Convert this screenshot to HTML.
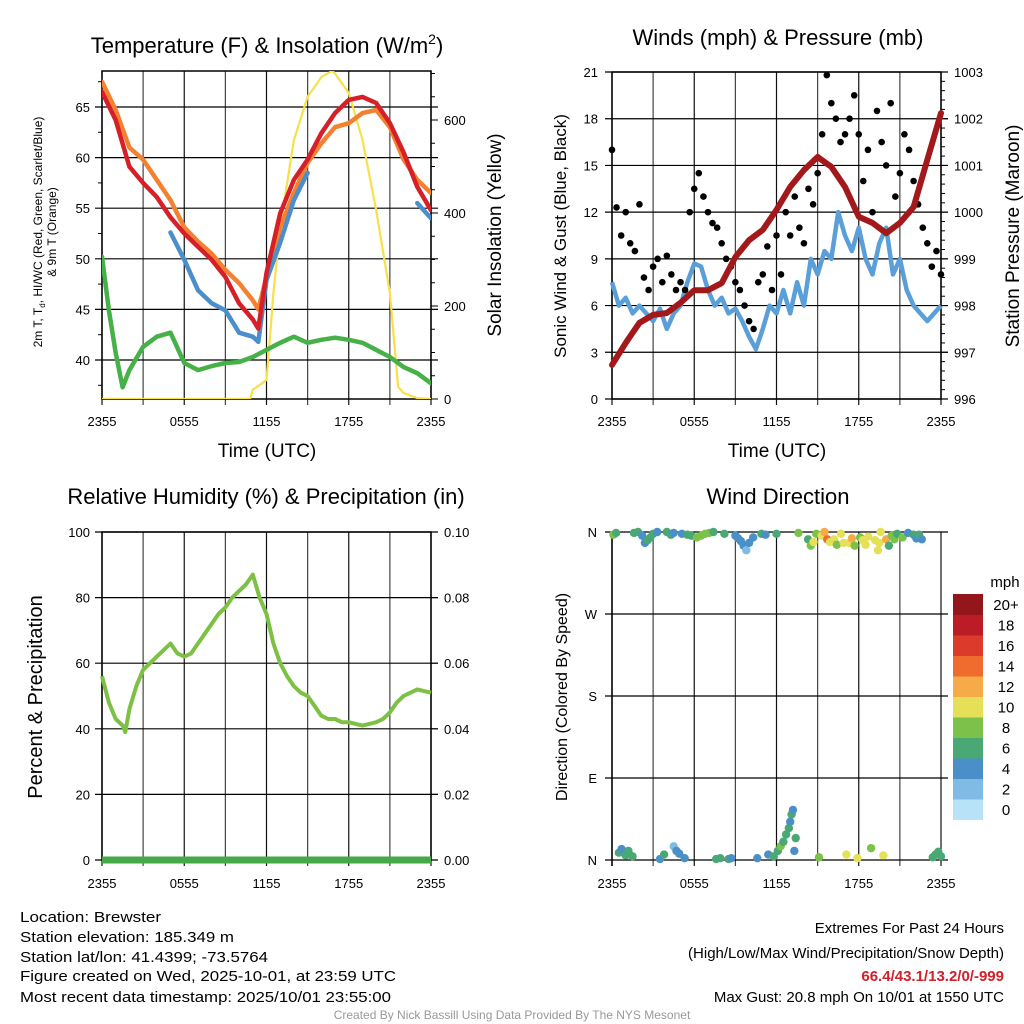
<!DOCTYPE html>
<html><head><meta charset="utf-8"><style>
html,body{margin:0;padding:0;background:#fff;}
svg{display:block;font-family:"Liberation Sans",Arial,sans-serif;}
</style></head><body>
<svg id="root" width="1024" height="1024" viewBox="0 0 1024 1024" xmlns="http://www.w3.org/2000/svg">
<rect width="1024" height="1024" fill="#fff"/>
<g id="layer"></g>
<text x="267" y="53" font-size="22" text-anchor="middle">Temperature (F) &amp; Insolation (W/m<tspan dy="-9" font-size="14">2</tspan><tspan dy="9">)</tspan></text>
<text x="778" y="45" font-size="22" text-anchor="middle">Winds (mph) &amp; Pressure (mb)</text>
<text x="266" y="504" font-size="22" text-anchor="middle">Relative Humidity (%) &amp; Precipitation (in)</text>
<text x="778" y="504" font-size="22" text-anchor="middle">Wind Direction</text>
<text transform="translate(42,232) rotate(-90)" font-size="12" text-anchor="middle">2m T, T<tspan font-size="8" dy="3">d</tspan><tspan dy="-3">, HI/WC (Red, Green, Scarlet/Blue)</tspan></text>
<text transform="translate(56,232) rotate(-90)" font-size="12" text-anchor="middle">&amp; 9m T (Orange)</text>
<text transform="translate(501,235) rotate(-90)" font-size="19" text-anchor="middle">Solar Insolation (Yellow)</text>
<text x="267" y="457" font-size="19" text-anchor="middle">Time (UTC)</text>
<text transform="translate(566,236) rotate(-90)" font-size="17" text-anchor="middle">Sonic Wind &amp; Gust (Blue, Black)</text>
<text transform="translate(1019,236) rotate(-90)" font-size="19" text-anchor="middle">Station Pressure (Maroon)</text>
<text x="777" y="457" font-size="19" text-anchor="middle">Time (UTC)</text>
<text transform="translate(42,697) rotate(-90)" font-size="20" text-anchor="middle">Percent &amp; Precipitation</text>
<text transform="translate(567,697) rotate(-90)" font-size="16" text-anchor="middle">Direction (Colored By Speed)</text>
<text x="1005" y="587" font-size="15" text-anchor="middle">mph</text>
<g font-size="15">
<text x="20" y="922" textLength="141" lengthAdjust="spacingAndGlyphs">Location: Brewster</text>
<text x="20" y="942" textLength="214" lengthAdjust="spacingAndGlyphs">Station elevation: 185.349 m</text>
<text x="20" y="962" textLength="248" lengthAdjust="spacingAndGlyphs">Station lat/lon: 41.4399; -73.5764</text>
<text x="20" y="981" textLength="376" lengthAdjust="spacingAndGlyphs">Figure created on Wed, 2025-10-01, at 23:59 UTC</text>
<text x="20" y="1002" textLength="371" lengthAdjust="spacingAndGlyphs">Most recent data timestamp: 2025/10/01 23:55:00</text>
</g>
<g font-size="15" text-anchor="end">
<text x="1004" y="933">Extremes For Past 24 Hours</text>
<text x="1004" y="958">(High/Low/Max Wind/Precipitation/Snow Depth)</text>
<text x="1004" y="981" fill="#d0202a" font-weight="bold">66.4/43.1/13.2/0/-999</text>
<text x="1004" y="1002">Max Gust: 20.8 mph On 10/01 at 1550 UTC</text>
</g>
<text x="512" y="1019" font-size="12" fill="#999" text-anchor="middle">Created By Nick Bassill Using Data Provided By The NYS Mesonet</text>
</svg>
<script>
const timeLabels = ["2355","0555","1155","1755","2355"];
const tempTime = [0,1,2,3,4,5,6,7,8,9,10,11,11.4,12,13,14,15,16,17,18,19,20,21,22,23,24];
const tempAir = [66.5,63.7,59.1,57.5,56.1,54.1,52.5,51.2,49.9,48.2,45.6,44.0,43.1,48.6,54.5,57.8,59.8,62.4,64.4,65.7,66.0,65.4,63.4,60.5,57.1,54.8];
const temp9m = [67.5,64.7,61.0,59.8,57.8,55.8,53.1,51.7,50.5,48.9,47.6,45.9,45.0,48.2,53.1,56.5,59.5,61.4,63.0,63.4,64.4,64.7,63.0,59.8,57.8,56.5];
const heatIndex = [null,null,null,null,null,52.6,49.9,46.9,45.6,44.9,42.7,42.3,41.8,47.9,51.6,55.8,58.5,null,null,null,null,null,null,null,55.5,54.0];
const dewTime = [0,0.5,1,1.5,2,3,4,5,6,7,8,9,10,11,12,13,14,15,16,17,18,19,20,21,22,23,24];
const dewPoint = [50.2,44.9,40.7,37.3,39.0,41.3,42.3,42.7,39.7,39.0,39.4,39.7,39.8,40.3,41.0,41.7,42.3,41.7,42.0,42.2,42.0,41.7,41.0,40.3,39.3,38.7,37.7];
const solarTime = [0,10,10.8,11,11.5,12,12.3,12.5,13,14,15,16,16.8,17,18,19,20,21,21.6,22,23,24];
const solarVal = [0,0,0,20,30,41,150,228,370,557,650,692,706,700,658,557,406,228,26,13,2,0];
const tempTicks = [40,45,50,55,60,65];
const solarTicks = [0,200,400,600];

const windTime = [0,0.5,1,1.5,2,2.5,3,3.5,4,4.5,5,5.5,6,6.5,7,7.5,8,8.5,9,9.5,10,10.5,11,11.5,12,12.5,13,13.5,14,14.5,15,15.5,16,16.5,17,17.5,18,18.5,19,19.5,20,20.5,21,21.5,22,22.5,23,23.5,24];
const windSpeed = [7.5,6.0,6.5,5.5,6.0,5.5,5.0,5.8,4.5,5.5,6.0,7.5,8.7,8.5,7.0,6.0,6.5,5.5,5.8,5.0,4.0,3.2,4.5,6.0,5.5,7.0,5.5,7.5,6.0,9.0,8.0,9.5,9.0,12.0,10.5,9.5,11.0,9.0,8.0,10.0,11.0,8.0,9.0,7.0,6.0,5.5,5.0,5.5,6.0];
const gustTime = [0,0.33,0.67,1,1.33,1.67,2,2.33,2.67,3,3.33,3.67,4,4.33,4.67,5,5.33,5.67,6,6.33,6.67,7,7.33,7.67,8,8.33,8.67,9,9.33,9.67,10,10.33,10.67,11,11.33,11.67,12,12.33,12.67,13,13.33,13.67,14,14.33,14.67,15,15.33,15.67,16,16.33,16.67,17,17.33,17.67,18,18.33,18.67,19,19.33,19.67,20,20.33,20.67,21,21.33,21.67,22,22.33,22.67,23,23.33,23.67,24];
const gustSpeed = [16,12.3,10.5,12,10,9.5,12.5,7.8,7,8.5,9,7.5,9.2,8,7,7.5,7,12,13.5,14.5,13,12,11.3,11,10,9,8.5,7.5,7,6,5,4.5,7.5,8,9.8,7,10.5,8,12,10.5,13,11,10,13.5,12.5,14.5,17,20.8,19,18,16.5,17,18,19.5,17,14,16,12,18.5,16.5,15,19,13,14.5,17,16,14,12.5,11,10,8.5,9.5,8];
const pressTime = [0,1,2,3,4,5,6,7,8,9,10,11,12,13,14,15,16,17,18,19,20,21,22,23,24];
const pressure = [996.73,997.20,997.63,997.80,997.84,998.06,998.33,998.33,998.48,999.04,999.40,999.62,1000.05,1000.54,1000.90,1001.18,1000.97,1000.54,999.90,999.77,999.55,999.77,1000.11,1001.12,1002.12];
const windTicks = [0,3,6,9,12,15,18,21];
const pressTicks = [996,997,998,999,1000,1001,1002,1003];

const rhTime = [0,0.5,1,1.5,1.7,2,2.5,3,3.5,4,4.5,5,5.5,6,6.5,7,7.5,8,8.5,9,9.5,10,10.5,11,11.5,12,12.5,13,13.5,14,14.5,15,15.5,16,16.5,17,17.5,18,18.5,19,19.5,20,20.5,21,21.5,22,22.5,23,23.5,24];
const rhVal = [56,48,43,41,39,46,53,58,60,62,64,66,63,62,63,66,69,72,75,77,80,82,84,87,80,75,66,60,56,53,51,50,47,44,43,43,42,42,41.5,41,41.5,42,43,45,48,50,51,52,51.5,51];
const precipTime = [0,24];
const precipVal = [0,0];
const rhTicks = [0,20,40,60,80,100];
const precipTicks = ["0.00","0.02","0.04","0.06","0.08","0.10"];

const dirTime = [0.1,0.3,0.5,0.7,1.0,1.2,1.5,1.6,1.9,2.2,2.4,2.6,2.8,3.0,3.3,3.5,3.8,4.0,4.3,4.5,4.5,4.7,4.9,5.1,5.3,5.5,5.8,6.2,6.5,6.8,7.1,7.4,7.6,7.9,8.2,8.5,8.7,9.0,9.2,9.4,9.6,9.8,10.0,10.3,10.6,10.9,11.2,11.4,11.8,12.0,12.1,12.3,12.5,12.7,12.9,13.0,13.1,13.2,13.3,13.4,13.6,14.3,14.5,14.7,14.9,15.1,15.3,15.5,15.7,15.9,16.2,16.4,16.7,16.9,17.1,17.3,17.5,17.7,17.9,18.1,18.3,18.5,18.7,18.9,19.2,19.4,19.5,19.6,19.8,20.0,20.2,20.4,20.6,20.8,21.2,21.6,22.0,22.2,22.4,22.6,23.4,23.6,23.8,24.0];
const dirDeg = [357,359,8,12,5,10,4,359,360,356,348,351,354,358,360,1,6,360,357,15,359,10,7,358,2,357,356,354,356,358,359,360,1,2,358,1,2,356,353,350,345,340,348,354,2,358,357,6,4,358,10,15,20,28,35,42,50,55,10,24,359,352,345,349,358,3,356,360,352,349,352,346,358,348,6,348,353,345,2,354,351,346,355,13,351,340,348,360,5,352,345,356,352,358,354,359,357,353,357,352,3,6,9,4];
const dirSpeed = [8,6,6,5,6,6,6,6,6,4,4,6,7,6,4,4,6,6,6,2,4,4,4,4,4,6,7,8,8,8,8,6,6,6,6,6,4,4,4,4,4,2,4,4,4,6,4,4,6,6,6,8,7,6,6,4,6,4,4,6,8,6,8,10,8,8,10,12,14,10,10,8,10,10,10,10,12,8,10,8,10,10,10,8,10,10,10,10,10,12,6,8,8,6,8,4,6,4,6,4,6,6,6,6];
const dirTicks = [0,90,180,270,360];
const dirLabels = ["N","E","S","W","N"];
const speedBins = ["0","2","4","6","8","10","12","14","16","18","20+"];
const speedColors = ["#b8e2f8","#80bbe5","#4a8fc8","#49a873","#7cc24a","#e6df58","#f6aa48","#ef6b2e","#dc3a2b","#bb1c25","#93161b"];

const NS = "http://www.w3.org/2000/svg";
const layer = document.getElementById("layer");
function el(tag, attrs, parent) {
  const e = document.createElementNS(NS, tag);
  for (const k in attrs) e.setAttribute(k, attrs[k]);
  (parent || layer).appendChild(e);
  return e;
}
function pathFrom(xs, ys, fx, fy) {
  let d = "", pen = false;
  for (let i = 0; i < xs.length; i++) {
    if (ys[i] === null) { pen = false; continue; }
    d += (pen ? "L" : "M") + fx(xs[i]).toFixed(1) + "," + fy(ys[i]).toFixed(1);
    pen = true;
  }
  return d;
}
function makeScale(d0, d1, r0, r1) { return v => r0 + (v - d0) * (r1 - r0) / (d1 - d0); }

function frame(name, x0, x1, y0, y1, xLabelY) {
  const g = el("g", {});
  
  
  const xs = makeScale(0, 24, x0, x1);
  for (let h = 0; h <= 24; h += 3) {
    const gl = el("line", {x1: xs(h), x2: xs(h), y1: y0, y2: y1 + 6, stroke: (h % 6 === 0) ? "#111" : "#444", "stroke-width": 1.2}, g);
    
    
  }
  timeLabels.forEach((lab, i) => {
    const t = el("text", {x: xs(i * 6), y: xLabelY, "font-size": 13, "text-anchor": "middle"}, g);
    
    
    t.textContent = lab;
  });
  return {g, xs};
}
function hgrid(g, name, x0, x1, y, label, lx) {
  const l = el("line", {x1: x0 - 7, x2: x1 + 7, y1: y, y2: y, stroke: "#000", "stroke-width": 1.2}, g);
  
  
  if (label !== null) {
    const t = el("text", {x: lx, y: y + 5, "font-size": 13, "text-anchor": "end"}, g);
    
    
    t.textContent = label;
  }
}
function rtick(g, name, x1, y, label, lx, major) {
  const l = el("line", {x1: x1, x2: x1 + (major ? 7 : 4), y1: y, y2: y, stroke: "#000", "stroke-width": 1}, g);
  
  
  if (label !== null) {
    const t = el("text", {x: lx, y: y + 5, "font-size": 13, "text-anchor": "start"}, g);
    
    
    t.textContent = label;
  }
}
function box(g, name, x0, x1, y0, y1) {
  const r = el("rect", {x: x0, y: y0, width: x1 - x0, height: y1 - y0, fill: "none", stroke: "#000", "stroke-width": 1.5}, g);
  
  
}

(function () {
  const x0 = 102, x1 = 431, y0 = 71, y1 = 399;
  const f = frame("temperature", x0, x1, y0, y1, 426);
  const ty = makeScale(40, 65, 360, 107);
  const sy = makeScale(0, 600, 399, 120);
  tempTicks.forEach(v => hgrid(f.g, "temperature", x0, x1, ty(v), String(v), 90));
  for (let v = 37.5; v < 68; v += 5) {
    const m = el("line", {x1: x0 - 4, x2: x0, y1: ty(v), y2: ty(v), stroke: "#000"}, f.g);
    
    
  }
  for (let v = 0; v <= 700; v += 50) rtick(f.g, "solar", x1, sy(v), solarTicks.includes(v) ? String(v) : null, 444, solarTicks.includes(v));
  box(f.g, "temperature", x0, x1, y0, y1);
  const clip = el("clipPath", {id: "c1"});
  el("rect", {x: x0, y: y0, width: x1 - x0, height: y1 - y0}, clip);
  const series = [
    ["solar-line", solarTime, solarVal, sy, "#f8e04a", 2.2],
    ["dewpoint-line", dewTime, dewPoint, ty, "#45b146", 4.5],
    ["temp-9m-line", tempTime, temp9m, ty, "#f4812f", 4.5],
    ["heat-index-line", tempTime, heatIndex, ty, "#4a8fcc", 4.5],
    ["temp-2m-line", tempTime, tempAir, ty, "#d71f28", 4.5]
  ];
  series.forEach(s => {
    const p = el("path", {d: pathFrom(s[1], s[2], f.xs, s[3]), fill: "none", stroke: s[4], "stroke-width": s[5], "stroke-linejoin": "round", "stroke-linecap": "round", "clip-path": "url(#c1)"});
    
    
  });
})();

(function () {
  const x0 = 612, x1 = 941, y0 = 72, y1 = 399;
  const f = frame("wind", x0, x1, y0, y1, 426);
  const wy = makeScale(0, 21, 399, 72);
  const py = makeScale(996, 1003, 399, 72);
  windTicks.forEach(v => hgrid(f.g, "wind", x0, x1, wy(v), String(v), 598));
  for (let v = 996; v <= 1003.001; v += 0.2) {
    const maj = Math.abs(v - Math.round(v)) < 0.01;
    rtick(f.g, "pressure", x1, py(v), maj ? String(Math.round(v)) : null, 954, maj);
  }
  box(f.g, "wind", x0, x1, y0, y1);
  const wp = el("path", {d: pathFrom(windTime, windSpeed, f.xs, wy), fill: "none", stroke: "#5a9fd8", "stroke-width": 4.5, "stroke-linejoin": "round"});
  
  
  gustTime.forEach((t, i) => {
    const c = el("circle", {cx: f.xs(t), cy: wy(gustSpeed[i]), r: 3.3, fill: "#000"});
    
    
  });
  const pp = el("path", {d: pathFrom(pressTime, pressure, f.xs, py), fill: "none", stroke: "#a3191b", "stroke-width": 6, "stroke-linejoin": "round", "stroke-linecap": "round"});
  
  
})();

(function () {
  const x0 = 102, x1 = 431, y0 = 532, y1 = 860;
  const f = frame("humidity", x0, x1, y0, y1, 888);
  const ry = makeScale(0, 100, 860, 532);
  rhTicks.forEach(v => hgrid(f.g, "humidity", x0, x1, ry(v), String(v), 90));
  precipTicks.forEach((lab, i) => rtick(f.g, "precip", x1, ry(i * 20), lab, 444, true));
  box(f.g, "humidity", x0, x1, y0, y1);
  const rp = el("path", {d: pathFrom(rhTime, rhVal, f.xs, ry), fill: "none", stroke: "#7cc143", "stroke-width": 4, "stroke-linejoin": "round"});
  
  
  const pr = el("path", {d: pathFrom(precipTime, precipVal, f.xs, v => ry(v * 1000)), fill: "none", stroke: "#46a847", "stroke-width": 7});
  
  
})();

(function () {
  const x0 = 612, x1 = 941, y0 = 532, y1 = 860;
  const f = frame("direction", x0, x1, y0, y1, 888);
  const dy = makeScale(0, 360, 860, 532);
  dirTicks.forEach((v, i) => hgrid(f.g, "direction", x0, x1, dy(v), dirLabels[i], 597));
  const ax = el("line", {x1: x0, x2: x0, y1: y0, y2: y1 + 6, stroke: "#000", "stroke-width": 1.5}, f.g);
  
  
  dirTime.forEach((t, i) => {
    const bin = Math.min(10, Math.floor(dirSpeed[i] / 2));
    const c = el("circle", {cx: f.xs(t), cy: dy(dirDeg[i]), r: 4.2, fill: speedColors[bin]});
    
    
  });
  const cb = el("g", {});
  
  
  const cbTop = 594, cbH = 20.5;
  speedBins.forEach((lab, i) => {
    const j = speedBins.length - 1 - i;
    const r = el("rect", {x: 953, y: cbTop + j * cbH, width: 30, height: cbH + 0.5, fill: speedColors[i]}, cb);
    
    
    const t = el("text", {x: 1006, y: cbTop + j * cbH + 16, "font-size": 15, "text-anchor": "middle"}, cb);
    
    
    t.textContent = lab;
  });
})();
</script>
</body></html>
